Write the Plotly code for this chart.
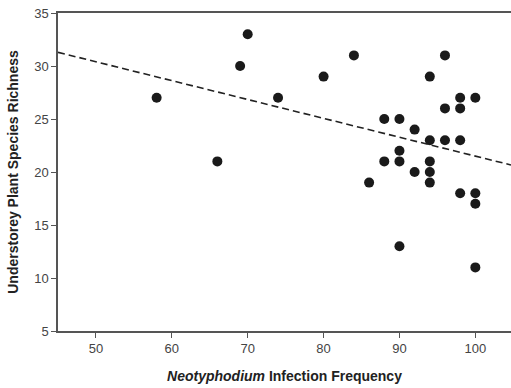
import plotly.graph_objects as go

# Infection frequency (%) and understorey species richness per site
infection_freq = [58, 66, 69, 70, 74, 80, 84, 86, 88, 88, 90, 90, 90, 90, 92, 92,
                  94, 94, 94, 94, 94, 96, 96, 96, 98, 98, 98, 98, 100, 100, 100, 100]
richness = [27, 21, 30, 33, 27, 29, 31, 19, 25, 21, 25, 22, 21, 13, 24, 20,
            29, 23, 21, 20, 19, 31, 26, 23, 27, 26, 23, 18, 27, 18, 17, 11]

# Fitted linear trend
fit_intercept = 39.3
fit_slope = -0.178

x_range = [45, 104.7]
y_range = [5, 35]
x_ticks = [50, 60, 70, 80, 90, 100]
y_ticks = [5, 10, 15, 20, 25, 30, 35]

fit_x = x_range
fit_y = [fit_intercept + fit_slope * v for v in fit_x]

fig = go.Figure()
fig.add_trace(go.Scatter(
    x=fit_x, y=fit_y, mode="lines",
    line=dict(color="#222222", width=1.6, dash="7px,4px"),
    hoverinfo="skip", showlegend=False,
))
fig.add_trace(go.Scatter(
    x=infection_freq, y=richness, mode="markers",
    marker=dict(color="#1a1a1a", size=10, line=dict(width=0)),
    showlegend=False,
))

axis_font = dict(family="Liberation Sans, Arial, sans-serif", size=13, color="#444444")
title_font = dict(family="Liberation Sans, Arial, sans-serif", size=14, color="#222222")

fig.update_layout(
    width=511, height=388,
    margin=dict(l=58, r=0, t=13, b=57),
    paper_bgcolor="white", plot_bgcolor="white",
    xaxis=dict(
        range=x_range, tickvals=x_ticks, showgrid=False, zeroline=False,
        showline=True, linecolor="#555555", linewidth=1.5, mirror=True,
        ticks="outside", ticklen=5, tickwidth=1.2, tickcolor="#555555",
        tickfont=axis_font,
        title=dict(text="<b><i>Neotyphodium</i> Infection Frequency</b>",
                   font=title_font, standoff=16),
    ),
    yaxis=dict(
        range=y_range, tickvals=y_ticks, showgrid=False, zeroline=False,
        showline=True, linecolor="#555555", linewidth=1.5, mirror=False,
        ticks="outside", ticklen=5, tickwidth=1.2, tickcolor="#555555",
        tickfont=axis_font,
        title=dict(text="<b>Understorey Plant Species Richness</b>",
                   font=title_font, standoff=12),
    ),
)

fig.write_html("out.html")
